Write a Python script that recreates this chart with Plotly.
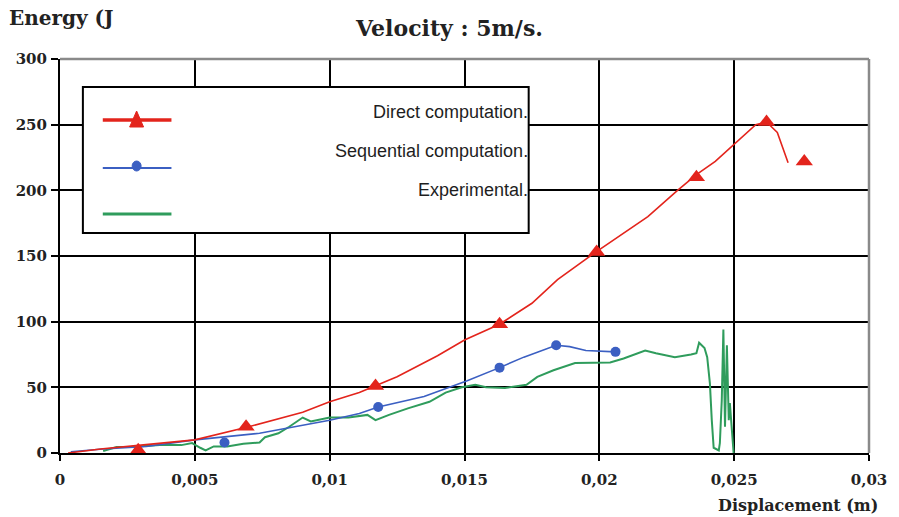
import plotly.graph_objects as go

# ---- data -------------------------------------------------------------
direct_line_x = [0.0003, 0.0015, 0.003, 0.005, 0.007, 0.009, 0.010, 0.0111, 0.0125,
                 0.014, 0.015, 0.0163, 0.0175, 0.01845, 0.0198, 0.0208, 0.0218, 0.0229,
                 0.0236, 0.0243, 0.0250, 0.0258, 0.0262, 0.0266, 0.0270]
direct_line_y = [0, 3, 6, 10, 20, 31, 39, 46, 58, 74, 86, 98, 114, 132, 152, 166, 180,
                 200, 212, 222, 235, 250, 252, 244, 221]
direct_mark_x = [0.0029, 0.0069, 0.0117, 0.0163, 0.0199, 0.0236, 0.0262, 0.0276]
direct_mark_y = [2, 20, 51, 98, 153, 210, 252, 222]

seq_line_x = [0.0004, 0.0016, 0.0032, 0.005, 0.0074, 0.010, 0.0111, 0.0118, 0.0135,
              0.0151, 0.0163, 0.0172, 0.0184, 0.0189, 0.0195, 0.0206]
seq_line_y = [1, 3, 5, 10, 15, 25, 30, 35, 43, 55, 65, 73, 82, 81, 78, 77]
seq_mark_x = [0.0061, 0.0118, 0.0163, 0.0184, 0.0206]
seq_mark_y = [8, 35, 65, 82, 77]

exp_x = [0.0016, 0.0021, 0.0026, 0.0037, 0.0045, 0.0049, 0.0052, 0.0054, 0.0057,
         0.0062, 0.0068, 0.0074, 0.0076, 0.0081, 0.0085, 0.0090, 0.0093, 0.0100,
         0.0107, 0.0114, 0.0117, 0.0122, 0.0129, 0.0137, 0.0143, 0.0149, 0.0154,
         0.0158, 0.0165, 0.0173, 0.0177, 0.0183, 0.0191, 0.0198, 0.0204, 0.0209,
         0.0217, 0.0221, 0.0228, 0.0234, 0.0236, 0.0237, 0.0239, 0.0240, 0.02406,
         0.0241, 0.02417, 0.02424, 0.02443, 0.02447, 0.02454, 0.0246, 0.02466,
         0.02473, 0.0248, 0.02484, 0.02498]
exp_y = [1.5, 4.5, 4.5, 6, 6, 7.6, 4, 2, 5,
         5, 7, 8, 12, 15, 20, 27, 24, 27,
         27, 29, 25, 29, 34, 39, 46, 50, 52,
         50, 49.5, 52, 58, 63, 68.5, 69, 69, 72,
         78, 76, 73, 75, 76, 84, 80, 73, 63,
         53, 25, 4, 2, 7.6, 40, 94, 20,
         82, 25, 38, 0]

x_ticks = [0, 0.005, 0.01, 0.015, 0.02, 0.025, 0.03]
x_tick_labels = ["0", "0,005", "0,01", "0,015", "0,02", "0,025", "0,03"]
y_ticks = [0, 50, 100, 150, 200, 250, 300]
y_tick_labels = ["0", "50", "100", "150", "200", "250", "300"]

series_names = ["Direct computation.", "Sequential computation.", "Experimental."]

RED = "#e3241c"
BLUE = "#3b5fc2"
GREEN = "#2f9c5c"
SERIF = "DejaVu Serif"

# ---- figure -----------------------------------------------------------
fig = go.Figure()

fig.add_trace(go.Scatter(x=exp_x, y=exp_y, mode="lines",
                         line=dict(color=GREEN, width=2), showlegend=False))
fig.add_trace(go.Scatter(x=seq_line_x, y=seq_line_y, mode="lines",
                         line=dict(color=BLUE, width=1.6), showlegend=False))
fig.add_trace(go.Scatter(x=direct_line_x, y=direct_line_y, mode="lines",
                         line=dict(color=RED, width=1.6), showlegend=False))
fig.add_trace(go.Scatter(x=seq_mark_x, y=seq_mark_y, mode="markers", cliponaxis=False,
                         marker=dict(symbol="circle", size=10, color=BLUE),
                         showlegend=False))
fig.add_trace(go.Scatter(x=direct_mark_x, y=direct_mark_y, mode="markers",
                         cliponaxis=False,
                         marker=dict(symbol="triangle-up", size=15, color=RED),
                         showlegend=False))

# plot area in pixels: left 60, right 873, top 59, bottom 453
L, R, T, B = 60, 873, 59, 453


def px(v):
    return (v - L) / (R - L)


def py(v):
    return (B - v) / (B - T)


shapes = [
    # grey frame on top and right
    dict(type="line", xref="paper", yref="paper", x0=0, x1=1, y0=1, y1=1,
         line=dict(color="#8a8a8a", width=2.5), layer="above"),
    dict(type="line", xref="paper", yref="paper", x0=1, x1=1, y0=0, y1=1,
         line=dict(color="#8a8a8a", width=2.5), layer="above"),
    # legend box
    dict(type="rect", xref="paper", yref="paper", x0=px(83), x1=px(531),
         y0=py(233), y1=py(87), line=dict(color="black", width=2),
         fillcolor="white", layer="above"),
    dict(type="line", xref="paper", yref="paper", x0=px(103), x1=px(172),
         y0=py(120), y1=py(120), line=dict(color=RED, width=3.5), layer="above"),
    dict(type="path", xref="paper", yref="paper", layer="above",
         path=f"M {px(130)} {py(127)} L {px(144)} {py(127)} L {px(137)} {py(111)} Z",
         fillcolor=RED, line=dict(color=RED, width=1)),
    dict(type="line", xref="paper", yref="paper", x0=px(103), x1=px(172),
         y0=py(168), y1=py(168), line=dict(color=BLUE, width=2), layer="above"),
    dict(type="circle", xref="paper", yref="paper", x0=px(132.5), x1=px(141.5),
         y0=py(171), y1=py(161), fillcolor=BLUE, line=dict(color=BLUE, width=1),
         layer="above"),
    dict(type="line", xref="paper", yref="paper", x0=px(103), x1=px(172),
         y0=py(214), y1=py(214), line=dict(color=GREEN, width=3), layer="above"),
]

annotations = [
    dict(text="Energy (J", xref="paper", yref="paper", x=px(7), y=py(18),
         xanchor="left", yanchor="middle", showarrow=False,
         font=dict(family=SERIF, size=20, color="#222222", weight="bold")),
    dict(text="Displacement (m)", xref="paper", yref="paper", x=px(884), y=py(505),
         xanchor="right", yanchor="middle", showarrow=False,
         font=dict(family=SERIF, size=16, color="#222222", weight="bold")),
]
for name, ty in zip(series_names, [112, 151, 190]):
    annotations.append(dict(text=name, xref="paper", yref="paper", x=px(532), y=py(ty),
                            xanchor="right", yanchor="middle", showarrow=False,
                            font=dict(family="Liberation Sans", size=18,
                                      color="#1e1e1e")))

axis_font = dict(family=SERIF, size=15, color="#222222", weight="bold")

fig.update_layout(
    width=899, height=517,
    margin=dict(l=L, r=899 - R, t=T, b=517 - B),
    paper_bgcolor="white", plot_bgcolor="white",
    showlegend=False,
    title=dict(text="Velocity : 5m/s.", x=0.5, xanchor="center", xref="container",
               y=1 - 28 / 517, yanchor="middle", yref="container",
               font=dict(family=SERIF, size=22, color="#222222", weight="bold")),
    xaxis=dict(range=[0, 0.03], tickvals=x_ticks, ticktext=x_tick_labels,
               showgrid=True, gridcolor="black", gridwidth=2,
               showline=True, linecolor="black", linewidth=2, zeroline=False,
               ticks="outside", ticklen=6, tickwidth=2, tickcolor="black",
               ticklabelstandoff=6, tickfont=axis_font),
    yaxis=dict(range=[0, 300], tickvals=y_ticks, ticktext=y_tick_labels,
               showgrid=True, gridcolor="black", gridwidth=2,
               showline=True, linecolor="black", linewidth=2, zeroline=False,
               ticks="outside", ticklen=7, tickwidth=2, tickcolor="black",
               ticklabelstandoff=1, tickfont=axis_font),
    shapes=shapes,
    annotations=annotations,
)

fig.write_html("out.html")
